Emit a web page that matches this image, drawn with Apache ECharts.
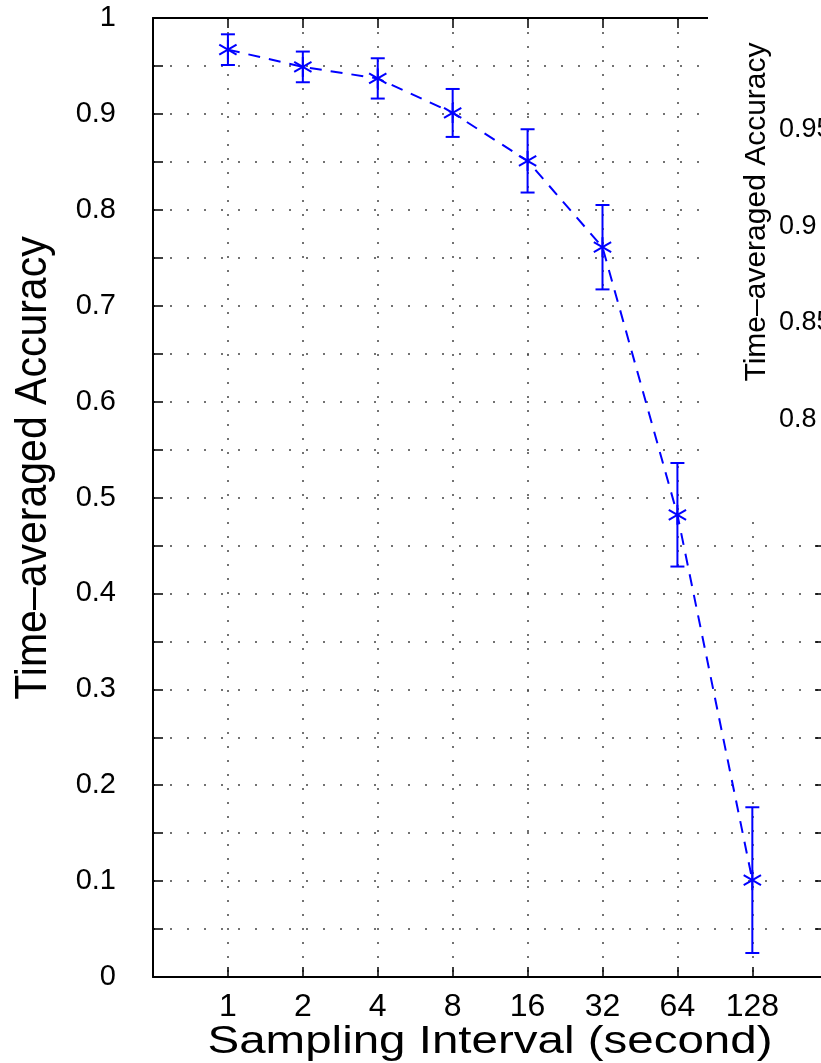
<!DOCTYPE html>
<html>
<head>
<meta charset="utf-8">
<script src="https://cdn.jsdelivr.net/npm/echarts@6/dist/echarts.min.js"></script>
<style>
  html, body { margin: 0; padding: 0; background: #fff; }
  #chart { width: 821px; height: 1063px; }
</style>
</head>
<body>
<div id="chart"></div>
<script>
// sampling intervals in seconds (x axis is log2 spaced)
var intervals = [1, 2, 4, 8, 16, 32, 64, 128];
// time-averaged accuracy and its error bar half height
var accuracy = [0.967, 0.949, 0.937, 0.901, 0.851, 0.761, 0.482, 0.101];
var errorBar = [0.016, 0.016, 0.021, 0.025, 0.033, 0.044, 0.054, 0.076];
// y tick labels, every 0.1 (grid every 0.05)
var yTickLabels = ['0', '0.1', '0.2', '0.3', '0.4', '0.5', '0.6', '0.7', '0.8', '0.9', '1'];
// tick labels of the neighbouring figure that overlaps on the right
var insetTickLabels = ['0.95', '0.9', '0.85', '0.8'];

var FONT = 'Liberation Sans';
var BLUE = '#0000ff';

var points = intervals.map(function (v, i) { return [Math.log2(v), accuracy[i], errorBar[i]]; });

function renderErr(params, api) {
  var x = api.value(0), y = api.value(1), e = api.value(2);
  var c = api.coord([x, y]);
  var hi = api.coord([x, y + e]);
  var lo = api.coord([x, y - e]);
  var cap = 7, r = 10;
  var style = { stroke: BLUE, lineWidth: 2, fill: null };
  var kids = [
    { type: 'line', shape: { x1: c[0], y1: hi[1], x2: c[0], y2: lo[1] }, style: style },
    { type: 'line', shape: { x1: c[0] - cap, y1: hi[1], x2: c[0] + cap, y2: hi[1] }, style: style },
    { type: 'line', shape: { x1: c[0] - cap, y1: lo[1], x2: c[0] + cap, y2: lo[1] }, style: style }
  ];
  [90, 30, 150].forEach(function (a) {
    var dx = r * Math.cos(a * Math.PI / 180), dy = r * Math.sin(a * Math.PI / 180);
    kids.push({ type: 'line', shape: { x1: c[0] - dx, y1: c[1] - dy, x2: c[0] + dx, y2: c[1] + dy }, style: style });
  });
  return { type: 'group', children: kids };
}

function yLabel(v) {
  var k = Math.round(v * 10);
  if (Math.abs(v * 10 - k) > 1e-6) return '';
  return yTickLabels[k] || '';
}

var chart = echarts.init(document.getElementById('chart'), null, { renderer: 'canvas' });

var axisLine = { show: true, onZero: false, lineStyle: { color: '#000', width: 2 } };
var axisTick = { show: true, inside: true, length: 10, lineStyle: { color: '#000', width: 1.5 } };

var option = {
  animation: false,
  backgroundColor: '#fff',
  grid: { left: 153, right: -4, top: 18, bottom: 86, outerBoundsMode: 'none', containLabel: false },
  xAxis: [{
    type: 'value', min: -1, max: 7.97, interval: 1, position: 'bottom',
    axisLine: axisLine,
    axisTick: axisTick,
    axisLabel: {
      fontFamily: FONT, fontSize: 32, color: '#000', margin: 14,
      formatter: function (v) { return Number.isInteger(v) && v >= 0 ? String(intervals[v] || '') : ''; }
    },
    splitLine: { show: true, lineStyle: { color: '#444', width: 1.5, type: [2, 12] } }
  }, {
    type: 'value', min: -1, max: 7.97, interval: 1, position: 'top',
    axisLine: axisLine,
    axisTick: axisTick,
    axisLabel: { show: false },
    splitLine: { show: false }
  }],
  yAxis: [{
    type: 'value', min: 0, max: 1, interval: 0.05, position: 'left',
    axisLine: axisLine,
    axisTick: axisTick,
    axisLabel: { fontFamily: FONT, fontSize: 29, color: '#000', margin: 37, formatter: yLabel },
    splitLine: { show: true, lineStyle: { color: '#444', width: 1.5, type: [2, 15] } }
  }, {
    type: 'value', min: 0, max: 1, interval: 0.05, position: 'right',
    axisLine: axisLine,
    axisTick: axisTick,
    axisLabel: { show: false },
    splitLine: { show: false }
  }],
  series: [{
    type: 'line',
    data: points.map(function (p) { return [p[0], p[1]]; }),
    symbol: 'none',
    lineStyle: { color: BLUE, width: 2, type: [12, 9] },
    z: 3
  }, {
    type: 'custom',
    data: points,
    renderItem: renderErr,
    z: 4
  }],
  graphic: [
    // axis titles
    {
      type: 'text', x: 490, y: 1043, scaleX: 1.25, z: 50,
      style: { text: 'Sampling Interval (second)', font: '38px "Liberation Sans"', fill: '#000', align: 'center', verticalAlign: 'middle' }
    },
    {
      type: 'text', x: 34, y: 468, rotation: Math.PI / 2, scaleY: 1.1, z: 50,
      style: { text: 'Time–averaged Accuracy', font: '41px "Liberation Sans"', fill: '#000', align: 'center', verticalAlign: 'middle' }
    },
    // the neighbouring figure covering the right part
    { type: 'rect', x: 708, y: 0, shape: { width: 120, height: 510 }, style: { fill: '#fff' }, z: 100 },
    {
      type: 'text', x: 757, y: 212, rotation: Math.PI / 2, z: 101,
      style: { text: 'Time–averaged Accuracy', font: '30px "Liberation Sans"', fill: '#000', align: 'center', verticalAlign: 'middle' }
    }
  ].concat(insetTickLabels.map(function (t, i) {
    return {
      type: 'text', x: 779, y: 130 + i * 96.5, z: 101,
      style: { text: t, font: '27px "Liberation Sans"', fill: '#000', align: 'left', verticalAlign: 'middle' }
    };
  }))
};

chart.setOption(option);
</script>
</body>
</html>
